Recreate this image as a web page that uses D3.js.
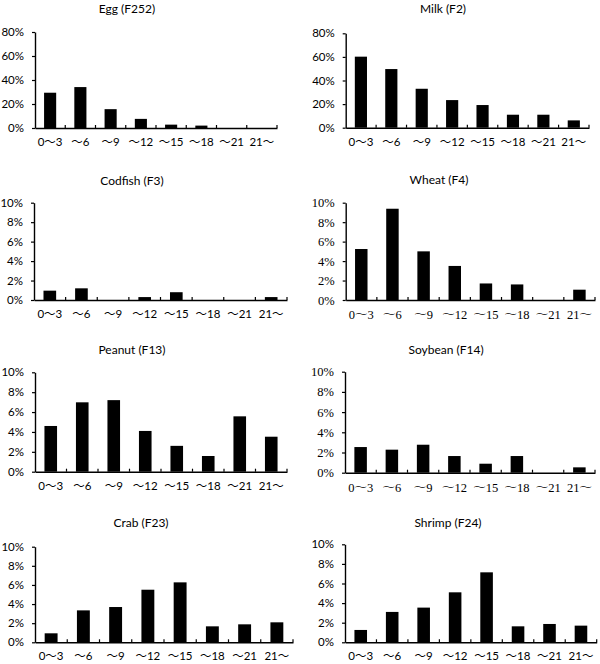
<!DOCTYPE html>
<html>
<head>
<meta charset="utf-8">
<script src="https://cdn.jsdelivr.net/npm/d3@7"></script>
<style>
  body { margin: 0; background: #fff; }
  svg { display: block; }
</style>
</head>
<body>
<svg id="chart" width="600" height="664"></svg>
<script>
// ---- data ----
const categories = ["0～3", "～6", "～9", "～12", "～15", "～18", "～21", "21～"];
const titles = ["Egg (F252)", "Milk (F2)", "Codfish (F3)", "Wheat (F4)", "Peanut (F13)", "Soybean (F14)", "Crab (F23)", "Shrimp (F24)"];
const egg     = [29.4, 34.1, 15.7, 7.6, 2.8, 2.0, 0, 0];
const milk    = [60.2, 49.7, 33.0, 23.4, 19.2, 11.0, 11.0, 6.2];
const codfish = [0.96, 1.2, 0, 0.3, 0.8, 0, 0, 0.3];
const wheat   = [5.24, 9.38, 5.0, 3.5, 1.7, 1.6, 0, 1.06];
const peanut  = [4.6, 6.98, 7.2, 4.1, 2.6, 1.58, 5.57, 3.52];
const soybean = [2.54, 2.28, 2.77, 1.65, 0.89, 1.65, 0, 0.53];
const crab    = [0.94, 3.34, 3.69, 5.5, 6.27, 1.67, 1.88, 2.09];
const shrimp  = [1.26, 3.1, 3.54, 5.1, 7.14, 1.63, 1.87, 1.7];
const yTicksLarge = [0, 20, 40, 60, 80];
const yTicksSmall = [0, 2, 4, 6, 8, 10];

const series = [egg, milk, codfish, wheat, peanut, soybean, crab, shrimp];
const tickSets = [yTicksLarge, yTicksLarge, yTicksSmall, yTicksSmall, yTicksSmall, yTicksSmall, yTicksSmall, yTicksSmall];

// ---- layout (pixel geometry per panel) ----
const layout = [
  {l: 35,    r: 277,   t: 32,    b: 128,   tx: 127, ty: 8,     serif: false},
  {l: 345.7, r: 589,   t: 33.3,  b: 127.7, tx: 443, ty: 8,     serif: false},
  {l: 34,    r: 287,   t: 202.7, b: 300,   tx: 132, ty: 180,   serif: false},
  {l: 345.7, r: 595,   t: 202.7, b: 300,   tx: 439, ty: 179,   serif: true},
  {l: 35,    r: 287,   t: 372.3, b: 471.7, tx: 132, ty: 349,   serif: false},
  {l: 345,   r: 595,   t: 371.7, b: 472.7, tx: 446, ty: 349,   serif: true},
  {l: 35,    r: 293,   t: 546.7, b: 642.3, tx: 141, ty: 522.7, serif: false},
  {l: 345,   r: 596.7, t: 544.3, b: 642.3, tx: 448, ty: 522,   serif: false}
];

const SANS = "Lato, 'Noto Sans CJK JP', sans-serif";
const SERIF = "'Liberation Serif', 'Noto Serif CJK JP', 'Noto Sans CJK JP', serif";

const svg = d3.select("#chart");

series.forEach((vals, i) => {
  const L = layout[i];
  const ticks = tickSets[i];
  const yMax = ticks[ticks.length - 1];
  const font = L.serif ? SERIF : SANS;
  const fsize = L.serif ? "12.5px" : "11.5px";

  const x = d3.scaleBand().domain(categories).range([L.l, L.r]).paddingInner(0.6).paddingOuter(0.3);
  const y = d3.scaleLinear().domain([0, yMax]).range([L.b, L.t]);

  const g = svg.append("g");

  // title
  g.append("text")
    .attr("x", L.tx).attr("y", L.ty)
    .attr("text-anchor", "middle")
    .attr("dominant-baseline", "central")
    .attr("font-family", SANS).attr("font-size", "12px")
    .attr("fill", "#000")
    .text(titles[i]);

  // bars
  g.selectAll("rect.bar").data(vals.map((v, k) => ({c: categories[k], v})))
    .join("rect")
    .attr("class", "bar")
    .attr("x", d => x(d.c))
    .attr("width", x.bandwidth())
    .attr("y", d => y(d.v))
    .attr("height", d => y(0) - y(d.v))
    .attr("fill", "#000");

  // y axis
  const ya = g.append("g")
    .attr("transform", `translate(${L.l},0)`)
    .call(d3.axisLeft(y).tickValues(ticks).tickSize(3).tickSizeOuter(0).tickPadding(8).tickFormat(d => d + "%"));
  ya.attr("font-family", font).attr("font-size", fsize);
  ya.select(".domain").attr("stroke", "#000").attr("stroke-width", 1.4);
  ya.selectAll(".tick line").attr("stroke", "#000").attr("stroke-width", 1.2);
  ya.selectAll("text").attr("fill", "#000");

  // x axis (labels only)
  const xa = g.append("g")
    .attr("transform", `translate(0,${L.b})`)
    .call(d3.axisBottom(x).tickSize(0).tickSizeOuter(0).tickPadding(10));
  xa.attr("font-family", font).attr("font-size", fsize);
  xa.select(".domain").attr("stroke", "#000").attr("stroke-width", 1.4);
  xa.selectAll("text").attr("fill", "#000");

  // category boundary ticks (upward)
  const step = x.step();
  const bounds = categories.map(c => x(c) + x.bandwidth() + step * x.paddingInner() / 2);
  g.selectAll("line.bt").data(bounds).join("line")
    .attr("class", "bt")
    .attr("x1", d => d).attr("x2", d => d)
    .attr("y1", L.b).attr("y2", L.b - 3)
    .attr("stroke", "#000").attr("stroke-width", 1.2);
});
</script>
</body>
</html>
